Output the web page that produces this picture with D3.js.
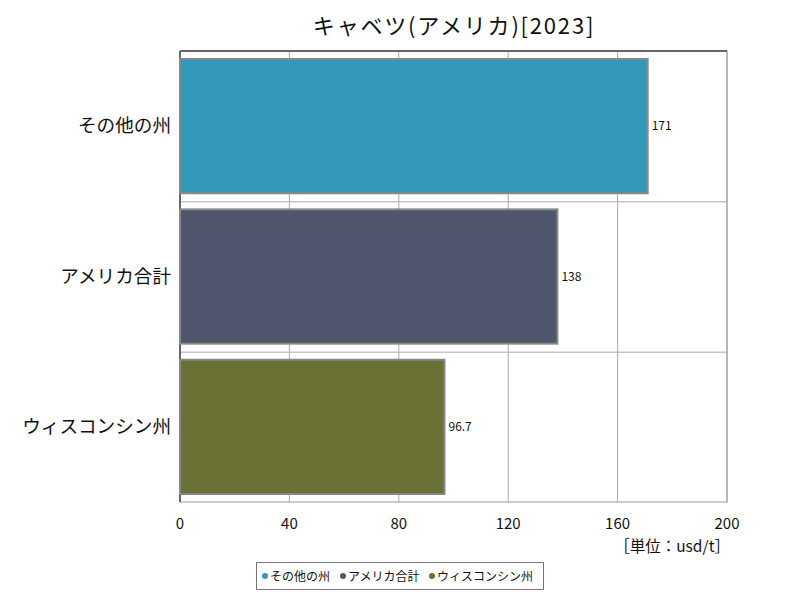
<!DOCTYPE html>
<html><head><meta charset="utf-8">
<script src="https://cdn.jsdelivr.net/npm/d3@7/dist/d3.min.js"></script>
<style>body{margin:0;background:#fff}svg{display:block}text{font-family:"Noto Sans CJK JP","Noto Sans",sans-serif}</style>
</head><body><svg id="c" width="800" height="600"></svg>
<script>
const categories = ["その他の州", "アメリカ合計", "ウィスコンシン州"];
const values = [171, 138, 96.7];
const valueLabels = ["171", "138", "96.7"];
const colors = ["#3399bb", "#4f566b", "#6b7035"];
const xTicks = [0, 40, 80, 120, 160, 200];
const title = "キャベツ(アメリカ)[2023]";
const unit = "［単位：usd/t］";

const svg = d3.select("#c");
const m = {l:180, r:727, t:51, b:502};
const x = d3.scaleLinear().domain([0,200]).range([m.l, m.r]);
const y = d3.scaleBand().domain(categories).range([m.t, m.b]).paddingInner(0.107).paddingOuter(0.053);
const rows = d3.scaleBand().domain(categories).range([m.t, m.b]);

svg.append("text").attr("x", 454).attr("y", 34).attr("text-anchor","middle")
  .attr("font-size", 22).attr("letter-spacing", 1.8).attr("fill","#111").text(title);

const g = svg.append("g");
// grid
g.selectAll(".vg").data(xTicks).join("line")
  .attr("x1", d=>x(d)).attr("x2", d=>x(d)).attr("y1", m.t).attr("y2", m.b)
  .attr("stroke", "#aaa").attr("stroke-width", 1);
g.selectAll(".hg").data(categories.slice(1)).join("line")
  .attr("x1", m.l).attr("x2", m.r).attr("y1", d=>rows(d)+0.5).attr("y2", d=>rows(d)+0.5)
  .attr("stroke", "#aaa");
g.append("rect").attr("x", m.l).attr("y", m.t).attr("width", m.r-m.l).attr("height", m.b-m.t)
  .attr("fill","none").attr("stroke","#999");
g.append("line").attr("x1", m.l).attr("x2", m.r).attr("y1", m.t).attr("y2", m.t).attr("stroke","#666").attr("stroke-width",2);
g.append("line").attr("x1", m.l).attr("x2", m.l).attr("y1", m.t).attr("y2", m.b).attr("stroke","#666").attr("stroke-width",2);

// bars
g.selectAll(".bar").data(categories).join("rect")
  .attr("x", x(0)).attr("y", d=>y(d))
  .attr("width", (d,i)=>x(values[i])-x(0)).attr("height", y.bandwidth())
  .attr("fill", (d,i)=>colors[i]).attr("stroke", "#888").attr("stroke-width", 2);

g.selectAll(".vl").data(categories).join("text")
  .attr("x", (d,i)=>x(values[i])+4).attr("y", d=>y(d)+y.bandwidth()/2+4)
  .attr("font-size", 12).attr("fill","#111").text((d,i)=>valueLabels[i]);

// category labels
g.selectAll(".cl").data(categories).join("text")
  .attr("x", m.l-9).attr("y", d=>rows(d)+rows.bandwidth()/2+6)
  .attr("text-anchor","end").attr("font-size", 18.6).attr("fill","#111").text(d=>d);

// x ticks
g.selectAll(".xt").data(xTicks).join("text")
  .attr("x", d=>x(d)).attr("y", 529).attr("text-anchor","middle")
  .attr("font-size", 15).attr("fill","#111").text(d=>d);

svg.append("text").attr("x", 730).attr("y", 552).attr("text-anchor","end")
  .attr("font-size", 15.5).attr("fill","#111").text(unit);

// legend
const lg = svg.append("g");
lg.append("rect").attr("x", 256.5).attr("y", 562.5).attr("width", 287).attr("height", 27)
  .attr("fill","#fff").attr("stroke","#777");
const legX = [265, 343, 432];
categories.forEach((c,i)=>{
  lg.append("circle").attr("cx", legX[i]).attr("cy", 576).attr("r", 3).attr("fill", colors[i]);
  lg.append("text").attr("x", legX[i]+5).attr("y", 580.5).attr("font-size", 12).attr("fill","#111").text(c);
});
</script></body></html>
